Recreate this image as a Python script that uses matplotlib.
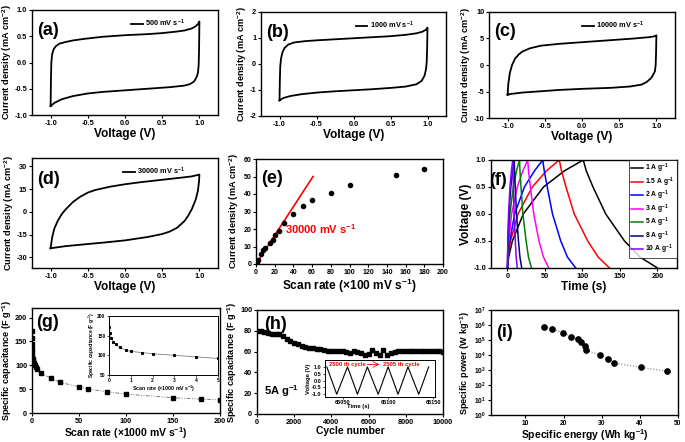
import matplotlib
matplotlib.use("Agg")
import matplotlib.pyplot as plt

plt.rcParams['font.family'] = ['Liberation Sans', 'DejaVu Sans']
plt.rcParams['font.weight'] = 'bold'
plt.rcParams['axes.labelweight'] = 'bold'
plt.rcParams['mathtext.fontset'] = 'custom'
plt.rcParams['mathtext.rm'] = 'Liberation Sans:bold'
plt.rcParams['mathtext.bf'] = 'Liberation Sans:bold'
plt.rcParams['mathtext.it'] = 'Liberation Sans:bold:italic'
plt.rcParams['mathtext.default'] = 'rm'
plt.rcParams['axes.linewidth'] = 1.0
plt.rcParams['xtick.major.size'] = 2.5
plt.rcParams['ytick.major.size'] = 2.5
plt.rcParams['xtick.major.pad'] = 1.0
plt.rcParams['ytick.major.pad'] = 1.0

# ---- data: CV loops (voltage V, current density mA cm-2), forward then reverse
cv_a_v = [-1.0, -0.995, -0.99, -0.98, -0.96, -0.93, -0.88, -0.8, -0.7, -0.55, -0.3, 0.0, 0.3, 0.5, 0.7, 0.8, 0.9, 0.95, 0.98, 1.0,
          0.995, 0.99, 0.98, 0.965, 0.93, 0.875, 0.8, 0.6, 0.3, 0.0, -0.3, -0.5, -0.7, -0.85, -0.95, -1.0]
cv_a_i = [-0.83, -0.3, 0.0, 0.15, 0.25, 0.31, 0.36, 0.39, 0.42, 0.45, 0.49, 0.52, 0.54, 0.56, 0.59, 0.61, 0.65, 0.69, 0.73, 0.78,
          0.2, -0.05, -0.2, -0.27, -0.36, -0.41, -0.44, -0.47, -0.5, -0.53, -0.56, -0.59, -0.64, -0.7, -0.77, -0.83]

cv_b_v = [-1.0, -0.995, -0.99, -0.98, -0.96, -0.93, -0.88, -0.8, -0.65, -0.5, -0.25, 0.0, 0.25, 0.5, 0.7, 0.85, 0.93, 0.98, 1.0,
          0.995, 0.99, 0.98, 0.96, 0.92, 0.85, 0.7, 0.5, 0.25, 0.0, -0.25, -0.5, -0.7, -0.85, -0.95, -1.0]
cv_b_i = [-1.4, -0.6, -0.1, 0.2, 0.45, 0.62, 0.75, 0.83, 0.88, 0.91, 0.95, 0.99, 1.03, 1.07, 1.12, 1.18, 1.24, 1.32, 1.4,
          0.6, 0.1, -0.2, -0.45, -0.65, -0.78, -0.87, -0.92, -0.97, -1.01, -1.05, -1.1, -1.16, -1.23, -1.31, -1.4]

cv_c_v = [-1.0, -0.99, -0.97, -0.94, -0.9, -0.85, -0.8, -0.7, -0.55, -0.3, 0.0, 0.3, 0.5, 0.7, 0.9, 0.97, 1.0,
          0.995, 0.99, 0.98, 0.95, 0.93, 0.87, 0.8, 0.65, 0.4, 0.0, -0.3, -0.6, -0.8, -0.95, -1.0]
cv_c_i = [-5.6, -3.5, -1.5, 0.0, 1.2, 2.0, 2.55, 3.15, 3.65, 4.0, 4.3, 4.6, 4.8, 5.0, 5.25, 5.4, 5.6,
          2.0, 0.0, -1.2, -2.0, -2.45, -3.2, -3.7, -4.05, -4.3, -4.5, -4.7, -5.0, -5.2, -5.45, -5.6]

cv_d_v = [-1.0, -0.98, -0.95, -0.9, -0.85, -0.8, -0.7, -0.6, -0.5, -0.4, -0.2, 0.0, 0.2, 0.4, 0.6, 0.8, 0.9, 1.0,
          0.995, 0.98, 0.95, 0.9, 0.85, 0.8, 0.7, 0.6, 0.5, 0.3, 0.0, -0.3, -0.5, -0.8, -1.0]
cv_d_i = [-24, -17, -11, -5.5, -1.5, 1.5, 6.5, 10.0, 12.7, 14.4, 16.6, 18.2, 19.5, 20.6, 21.7, 22.8, 23.4, 24.6,
          20, 14, 8, 2, -2.5, -6.0, -10.5, -13.0, -14.6, -16.6, -18.8, -20.3, -21.2, -22.6, -24]

# ---- (e) current density vs scan rate
e_rate = [0.5, 1, 2.5, 5, 8, 10, 15, 18, 20, 25, 30, 40, 50, 60, 80, 100, 150, 180]
e_current = [0.7, 1.3, 2.5, 5.6, 7.8, 9.2, 12, 14, 16.3, 18.7, 23.4, 28.8, 33.4, 36.3, 40.5, 45.1, 50.8, 54.3]
e_fit_x = [0, 61]
e_fit_y = [0, 50]

# ---- (f) galvanostatic charge/discharge
gcd_labels = ['1 A g$^{-1}$', '1.5 A g$^{-1}$', '2 A g$^{-1}$', '3 A g$^{-1}$', '5 A g$^{-1}$', '8 A g$^{-1}$', '10 A g$^{-1}$']
gcd_colors = ['black', '#ff0000', '#0000ff', '#ff00ff', '#008000', '#000080', '#8000ff']
gcd_v = [-1.0, -0.8, -0.5, 0.0, 0.5, 0.8, 1.0, 0.8, 0.5, 0.0, -0.5, -0.8, -1.0]
gcd_t = [
    [0, 1.5, 6.5, 21, 48, 76, 101, 105, 114, 131, 156, 177, 200],
    [0, 1, 4, 14, 33, 52, 69, 72, 78, 89, 107, 121, 136],
    [0, 0.7, 3, 9.5, 22.5, 36, 47, 49, 53, 60, 71, 80, 91],
    [0, 0.4, 1.7, 5.5, 13, 20.5, 27, 28, 30.5, 35, 42, 48, 55],
    [0, 0.25, 1, 3.3, 7.7, 12, 16, 16.6, 18, 20.5, 24.8, 28, 32],
    [0, 0.15, 0.6, 1.9, 4.4, 6.9, 9, 9.4, 10.3, 12, 14.6, 16.6, 19],
    [0, 0.1, 0.4, 1.4, 3.3, 5.2, 7, 7.3, 7.9, 8.8, 10.4, 11.6, 13],
]

# ---- (g) specific capacitance vs scan rate (x1000 mV/s)
g_rate = [0.02, 0.05, 0.1, 0.2, 0.3, 0.5, 0.8, 1, 1.5, 2, 3, 4, 5, 10, 20, 30, 50, 60, 80, 100, 150, 180, 200]
g_cap = [172, 158, 145, 135, 128, 120, 113, 110, 107, 104, 100, 96, 92, 83, 73, 64, 55, 50, 44.5, 39.5, 32, 29, 27.5]

# ---- (h) cycling at 5 A/g
h_cycle = list(range(0, 10001, 200))
h_cap = [80, 79.5, 78.5, 77.5, 77, 76.5, 76.5, 75, 72.5, 70, 68, 67, 65.5, 64, 63, 63, 62.5, 62.5, 61.5, 61,
         61, 61, 60.5, 61, 60, 58.5, 61, 59.5, 58.5, 57, 57.5, 62, 59, 57, 62, 57, 58.5, 60, 60.5, 61,
         61, 60.5, 61, 61, 61, 60.5, 61, 60.5, 61, 60.5, 60]
h_in_t = [65032, 65043, 65055, 65066, 65077, 65089, 65100, 65111, 65122, 65134, 65145]
h_in_v = [1.0, -1.0, 1.0, -1.0, 1.0, -1.0, 1.0, -1.0, 1.0, -1.0, 1.0]

# ---- (i) Ragone plot
i_energy = [15.0, 17.0, 19.8, 22.0, 23.7, 24.5, 25.7, 25.9, 29.6, 31.7, 33.3, 40.3, 47.0]
i_power = [7.4e5, 5.4e5, 3.1e5, 1.7e5, 1.1e5, 7.6e4, 4.2e4, 2.1e4, 1.0e4, 5.5e3, 2.9e3, 1.5e3, 8.2e2]


fig = plt.figure(figsize=(6.85, 4.42), dpi=100)


def px_axes(l, t, r, b):
    return fig.add_axes([l / 685, 1 - b / 442, (r - l) / 685, (b - t) / 442])


def style(ax, tick_fs=5.3):
    ax.tick_params(labelsize=tick_fs, width=0.8)
    for lab in ax.get_xticklabels() + ax.get_yticklabels():
        lab.set_fontweight('bold')


def tag(ax, s, x, y):
    ax.text(x, y, s, transform=ax.transAxes, fontsize=13, fontweight='bold', ha='left', va='center')


YLAB = 6.6
XLAB = 8.6
XLAB_LOW = 7.5


def cv_panel(ax, v, i, ylim, yticks, label, letter, leg_x, tag_y):
    ax.plot(v, i, color='black', lw=1.3, label=label)
    ax.set_xlim(-1.25, 1.25)
    ax.set_ylim(*ylim)
    ax.set_xticks([-1.0, -0.5, 0.0, 0.5, 1.0])
    ax.set_xticklabels(['-1.0', '-0.5', '0.0', '0.5', '1.0'])
    ax.set_yticks(yticks)
    ax.set_xlabel('Voltage (V)', fontsize=XLAB, labelpad=1)
    ax.set_ylabel('Current density (mA cm$^{-2}$)', fontsize=YLAB, labelpad=0.5)
    ax.legend(loc='upper right', bbox_to_anchor=(leg_x, 0.99), frameon=False,
              handlelength=1.6, handletextpad=0.3, prop={'weight': 'bold', 'size': 5.3})
    tag(ax, letter, 0.03, tag_y)


ax_a = px_axes(32, 10, 218, 115)
cv_panel(ax_a, cv_a_v, cv_a_i, (-1.0, 1.0), [-1.0, -0.5, 0.0, 0.5, 1.0], '500 mV s$^{-1}$', '(a)', 0.86, 0.8)
ax_a.set_yticklabels(['-1.0', '-0.5', '0.0', '0.5', '1.0'])

ax_b = px_axes(261, 12, 446, 116)
cv_panel(ax_b, cv_b_v, cv_b_i, (-2, 2), [-2, -1, 0, 1, 2], '1000 mV s$^{-1}$', '(b)', 0.86, 0.8)
ax_b.set_yticklabels(['-2', '-1', '0', '1', '2'])

ax_c = px_axes(489, 12, 675, 118)
cv_panel(ax_c, cv_c_v, cv_c_i, (-10, 10), [-10, -5, 0, 5, 10], '10000 mV s$^{-1}$', '(c)', 0.87, 0.82)
ax_c.set_yticklabels(['-10', '-5', '0', '5', '10'])

ax_d = px_axes(32, 158, 218, 268)
cv_panel(ax_d, cv_d_v, cv_d_i, (-37, 35.5), [-30, -15, 0, 15, 30], '30000 mV s$^{-1}$', '(d)', 0.86, 0.8)
ax_d.set_yticklabels(['-30', '-15', '0', '15', '30'])
for a in (ax_a, ax_b, ax_c, ax_d):
    style(a)

# ---- (e)
ax_e = px_axes(256, 159, 443, 264)
ax_e.plot(e_fit_x, e_fit_y, color='#ff0000', lw=1.2)
ax_e.plot(e_rate, e_current, 'o', color='black', ms=3)
ax_e.set_xlim(0, 200)
ax_e.set_ylim(0, 60)
ax_e.set_xticks(range(0, 201, 20))
ax_e.set_yticks(range(0, 61, 10))
ax_e.set_xlabel('Scan rate (\u00d7100 mV s$^{-1}$)', fontsize=XLAB, labelpad=1)
ax_e.set_ylabel('Current density (mA cm$^{-2}$)', fontsize=YLAB, labelpad=1.5)
ax_e.text(31, 20, '30000 mV s$^{-1}$', color='#ff0000', fontsize=8, fontweight='bold', ha='left', va='center')
tag(ax_e, '(e)', 0.03, 0.81)
style(ax_e, 5)

# ---- (f)
ax_f = px_axes(491, 160, 677, 268)
for t, c, lab in zip(gcd_t, gcd_colors, gcd_labels):
    ax_f.plot(t, gcd_v, color=c, lw=1.1, label=lab)
ax_f.set_xlim(-22, 226)
ax_f.set_ylim(-1.0, 1.0)
ax_f.set_xticks([0, 50, 100, 150, 200])
ax_f.set_yticks([-1.0, -0.5, 0.0, 0.5, 1.0])
ax_f.set_yticklabels(['-1.0', '-0.5', '0.0', '0.5', '1.0'])
ax_f.set_xlabel('Time (s)', fontsize=XLAB, labelpad=1)
ax_f.set_ylabel('Voltage (V)', fontsize=XLAB, labelpad=1)
leg = ax_f.legend(loc='upper right', bbox_to_anchor=(1.0, 1.0), borderaxespad=0, fancybox=False,
                  edgecolor='black', handlelength=1.7, handletextpad=0.4, labelspacing=0.02,
                  borderpad=0.3, prop={'weight': 'bold', 'size': 4.9})
leg.get_frame().set_linewidth(0.6)
tag(ax_f, '(f)', -0.01, 0.81)
style(ax_f)

# ---- (g)
ax_g = px_axes(32, 308, 220, 413)
g_line = dict(color='gray', lw=0.7, linestyle=(0, (4, 1.5, 1, 1.5, 1, 1.5)))
ax_g.plot(g_rate, g_cap, **g_line)
ax_g.plot(g_rate, g_cap, 's', color='black', ms=2.2)
ax_g.set_xlim(0, 200)
ax_g.set_ylim(0, 220)
ax_g.set_xticks([0, 50, 100, 150, 200])
ax_g.set_yticks([0, 50, 100, 150, 200])
ax_g.set_xlabel('Scan rate (\u00d71000 mV s$^{-1}$)', fontsize=XLAB_LOW, labelpad=0)
ax_g.set_ylabel('Specific capacitance (F g$^{-1}$)', fontsize=YLAB, labelpad=0.5)
tag(ax_g, '(g)', 0.02, 0.86)
style(ax_g)

ax_gi = px_axes(109, 316, 218, 375)
ax_gi.plot(g_rate, g_cap, color='gray', lw=0.6)
ax_gi.plot(g_rate, g_cap, 's', color='black', ms=1.2)
ax_gi.set_xlim(0, 5)
ax_gi.set_ylim(50, 200)
ax_gi.set_xticks([0, 1, 2, 3, 4, 5])
ax_gi.set_yticks([50, 100, 150, 200])
ax_gi.tick_params(labelsize=3.5, length=1.5, pad=1, width=0.5)
ax_gi.set_xlabel('Scan rate (\u00d71000 mV s$^{-1}$)', fontsize=3.8, labelpad=0.5)
ax_gi.set_ylabel('Specific capacitance (F g$^{-1}$)', fontsize=3.5, labelpad=0.5)
for s in ax_gi.spines.values():
    s.set_linewidth(0.7)

# ---- (h)
ax_h = px_axes(257, 310, 443, 414)
ax_h.plot(h_cycle, h_cap, 's', color='black', ms=3)
ax_h.set_xlim(0, 10000)
ax_h.set_ylim(0, 100)
ax_h.set_xticks(range(0, 10001, 2000))
ax_h.set_yticks(range(0, 101, 20))
ax_h.set_xlabel('Cycle number', fontsize=XLAB_LOW, labelpad=0)
ax_h.set_ylabel('Specific capacitance (F g$^{-1}$)', fontsize=YLAB, labelpad=0.5)
ax_h.text(400, 22, '5A g$^{-1}$', fontsize=8, fontweight='bold', ha='left', va='center')
tag(ax_h, '(h)', 0.04, 0.86)
style(ax_h)

ax_hi = px_axes(325, 360, 435, 397)
ax_hi.plot(h_in_t, h_in_v, color='black', lw=0.8)
ax_hi.set_xlim(65030, 65152)
ax_hi.set_ylim(-1.2, 1.5)
ax_hi.set_xticks([65050, 65100, 65150])
ax_hi.set_yticks([-1.0, -0.5, 0.0, 0.5, 1.0])
ax_hi.set_yticklabels(['-1.0', '-0.5', '0.0', '0.5', '1.0'])
ax_hi.tick_params(labelsize=4, length=1.5, pad=1, width=0.5)
for lab in ax_hi.get_xticklabels() + ax_hi.get_yticklabels():
    lab.set_fontweight('bold')
ax_hi.set_xlabel('Time (s)', fontsize=4.2, labelpad=0)
ax_hi.xaxis.set_label_coords(0.3, -0.2)
ax_hi.set_ylabel('Voltage (V)', fontsize=4.2, labelpad=0.5)
ax_hi.text(0.04, 0.88, '2500 th cycle', transform=ax_hi.transAxes, color='#ff0000', fontsize=4.2,
           fontweight='bold', ha='left', va='center')
ax_hi.annotate('', xy=(0.52, 0.88), xytext=(0.36, 0.88), xycoords='axes fraction',
               arrowprops=dict(arrowstyle='->', color='#ff0000', lw=0.6))
ax_hi.text(0.53, 0.88, '2505 th cycle', transform=ax_hi.transAxes, color='#ff0000', fontsize=4.2,
           fontweight='bold', ha='left', va='center')
for s in ax_hi.spines.values():
    s.set_linewidth(0.7)

# ---- (i)
ax_i = px_axes(491, 310, 678, 415)
ax_i.plot(i_energy, i_power, linestyle=':', color='gray', lw=0.8)
ax_i.plot(i_energy, i_power, 'o', color='black', ms=3.8)
ax_i.set_yscale('log')
ax_i.set_xlim(1, 50)
ax_i.set_ylim(1, 1e7)
ax_i.set_xticks([10, 20, 30, 40, 50])
ax_i.set_yticks([10 ** k for k in range(8)])
ax_i.minorticks_off()
ax_i.set_xlabel('Specific energy (Wh kg$^{-1}$)', fontsize=XLAB_LOW, labelpad=0)
ax_i.set_ylabel('Specific power (W kg$^{-1}$)', fontsize=YLAB, labelpad=1.5)
tag(ax_i, '(i)', 0.03, 0.79)
style(ax_i, 4.8)

fig.savefig('out.png', dpi=100)
